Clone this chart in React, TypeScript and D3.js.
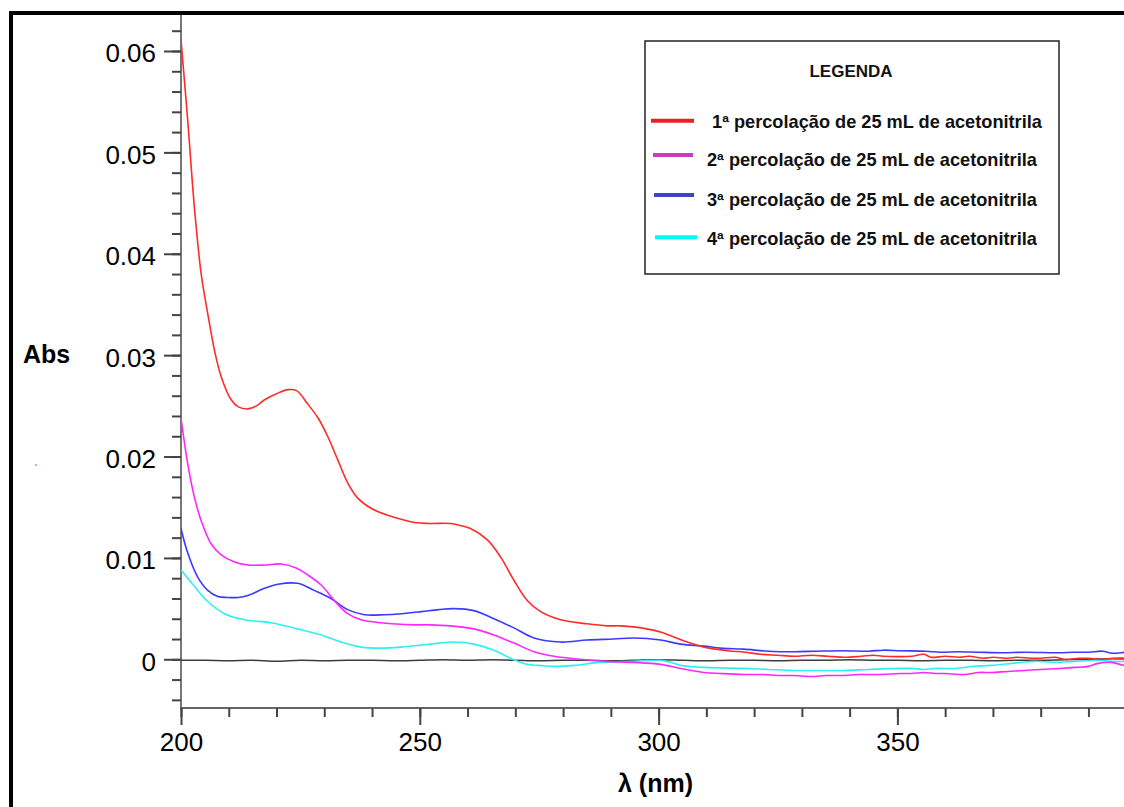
import React, { useEffect, useRef } from "react";
import * as d3 from "d3";

// ---- Data ----
const wavelengthMajorTicks = [200, 250, 300, 350];
const absMajorTicks = [0, 0.01, 0.02, 0.03, 0.04, 0.05, 0.06];

const seriesNames = [
  " 1ª percolação de 25 mL de acetonitrila",
  "2ª percolação de 25 mL de acetonitrila",
  "3ª percolação de 25 mL de acetonitrila",
  "4ª percolação de 25 mL de acetonitrila",
];

const red: [number, number][] = [
  [200, 0.0611], [201.4, 0.0532], [202.8, 0.0446], [204.2, 0.0381], [205.6, 0.0341], [207, 0.0305],
  [208.4, 0.0279], [210.5, 0.0256], [212, 0.0249], [214, 0.0247], [215.8, 0.025], [217.5, 0.0256],
  [220, 0.0262], [222.4, 0.0266], [224.2, 0.0265], [226.5, 0.0252], [228.7, 0.0238], [230.7, 0.022],
  [232.8, 0.0197], [234.9, 0.0174], [237, 0.0159], [239.8, 0.0149], [243.3, 0.0142], [248.9, 0.0135],
  [252, 0.0134], [256.4, 0.0134], [258.5, 0.0132], [260.6, 0.0129], [264.1, 0.0118], [266.9, 0.0101],
  [269.7, 0.0078], [272.5, 0.0058], [275.3, 0.0047], [279.5, 0.0039], [285, 0.0035], [289.2, 0.0033],
  [292, 0.0033], [294.8, 0.0032], [297.5, 0.003], [300.4, 0.0027], [303.2, 0.0022], [306, 0.0017],
  [309.5, 0.0012], [314.4, 0.00085], [318, 0.0007], [321.4, 0.0005], [325, 0.0004], [328.4, 0.0003],
  [332, 0.0004], [335.4, 0.0003], [339, 0.0002], [342.4, 0.0003], [345, 0.0004], [347, 0.0003],
  [350.7, 0.00026], [353, 0.0003], [355.6, 0.0005], [357, 0.0002], [360, 0.0003], [363, 0.0002],
  [365, 0.0003], [368, 0.0001], [370, 0.0002], [373, 0.0001], [375, 0.0002], [378, 0.0001],
  [380, 0.0001], [383, 0.0002], [385, 0.0], [388, 0.0001], [390, 0.0001], [393, 0.0], [395, 0.0001],
  [398, 0.0001], [400, 0.0],
];

const magenta: [number, number][] = [
  [200, 0.0238], [201.4, 0.0193], [202.8, 0.016], [204.2, 0.0137], [206.3, 0.0114], [208.4, 0.0103],
  [211.2, 0.0096], [214, 0.0093], [217.5, 0.0093], [221, 0.0094], [224.1, 0.009], [226.6, 0.0083],
  [229.4, 0.0073], [232.1, 0.0058], [234.9, 0.0045], [237.7, 0.0039], [241.9, 0.0036], [248.9, 0.0034],
  [252, 0.0034], [256.4, 0.0033], [261.3, 0.003], [265.5, 0.0024], [269.7, 0.0016], [273.9, 0.00075],
  [278.1, 0.0003], [283.6, 0.0], [289.2, -0.0002], [294.8, -0.0003], [300.4, -0.0005], [304.6, -0.0009],
  [309.5, -0.0013], [313, -0.0014], [317.8, -0.0015], [322, -0.0015], [325, -0.0016], [328.4, -0.0016],
  [332, -0.0017], [335, -0.0016], [338.8, -0.0016], [342, -0.0015], [346, -0.0015], [350.7, -0.0014],
  [353, -0.0014], [355.6, -0.0013], [358, -0.0014], [360, -0.0014], [364, -0.0015], [367, -0.0013],
  [369.6, -0.0013], [373, -0.0012], [376.6, -0.0011], [380, -0.001], [384, -0.0009], [387.1, -0.0008],
  [390, -0.0007], [392, -0.0004], [394.8, -0.0003], [397.6, -0.0006], [400, -0.0005],
];

const blue: [number, number][] = [
  [200, 0.0129], [201.4, 0.0105], [203.5, 0.0081], [205.6, 0.0068], [207.7, 0.0062], [209.8, 0.0061],
  [212, 0.0061], [214, 0.0063], [217.5, 0.007], [220.3, 0.0074], [224.4, 0.0075], [227.9, 0.0068],
  [231.4, 0.006], [234.9, 0.0049], [238.4, 0.0044], [242.6, 0.0044], [246.1, 0.0045], [250.3, 0.0047],
  [254, 0.0049], [257.1, 0.005], [261.3, 0.0048], [265.5, 0.004], [269.7, 0.0031], [273.9, 0.0021],
  [279.5, 0.0017], [285, 0.0019], [290.6, 0.002], [294.8, 0.0021], [300.4, 0.0019], [304.6, 0.0015],
  [309.5, 0.0013], [313, 0.0011], [317.8, 0.001], [323, 0.0008], [328.4, 0.00075], [333, 0.0008],
  [338.8, 0.00085], [344, 0.0008], [347, 0.0009], [350.7, 0.00085], [356, 0.0008], [359, 0.0007],
  [362.6, 0.00075], [367, 0.0007], [371.7, 0.00065], [377, 0.0007], [383.6, 0.00065], [387, 0.0007],
  [390, 0.0007], [393, 0.0008], [395, 0.0006], [398, 0.0007], [400, 0.0007],
];

const cyan: [number, number][] = [
  [200, 0.0088], [202.8, 0.0072], [205.6, 0.0057], [209.1, 0.0045], [213.3, 0.0039], [218.9, 0.0036],
  [224.4, 0.003], [229.4, 0.0024], [233.5, 0.0017], [237.7, 0.0012], [241.9, 0.0011], [246.1, 0.0012],
  [250.3, 0.0014], [254, 0.0016], [257.1, 0.0017], [261.3, 0.0015], [265.5, 0.0009], [269, 0.0001],
  [272.5, -0.0005], [275, -0.0006], [278.1, -0.0007], [282.3, -0.0006], [287.8, -0.0003], [294.8, -0.0002],
  [300.4, -0.0001], [302.5, -0.0003], [304.6, -0.0006], [309.5, -0.0008], [317.8, -0.0009], [323, -0.001],
  [328.4, -0.0011], [333, -0.0011], [338.8, -0.0011], [344, -0.001], [350.7, -0.0009], [353, -0.0009],
  [355.6, -0.001], [358, -0.0009], [362, -0.0009], [366, -0.0007], [369.6, -0.0006], [374, -0.0004],
  [376, -0.0003], [378.7, -0.0002], [383, -0.0003], [387.1, -0.0002], [392, -0.0001], [395, -0.0002],
  [400, -0.0002],
];

const black: [number, number][] = [
  [200, -0.0001], [205, -0.0001], [210, -0.00015], [215, -0.0001], [220, -0.0002], [225, -0.0001],
  [230, -0.00015], [235, -0.0001], [240, -0.0001], [245, -0.00015], [250, -0.0001], [255, -0.00005],
  [260, -0.0001], [265, -0.00005], [270, -0.0001], [275, -0.00015], [280, -0.0001], [285, -0.0001],
  [290, -0.00015], [295, -0.0001], [300, -0.00005], [305, -0.0001], [310, -0.00015], [315, -0.0001],
  [320, -0.0001], [325, -0.00015], [330, -0.0001], [335, -0.0001], [340, -0.00005], [345, -0.0001],
  [350, -0.0001], [355, -0.00015], [360, -0.0001], [365, -0.0001], [370, -0.00015], [375, -0.0001],
  [380, -0.0001], [385, -0.00005], [390, 0.0], [395, 0.00005], [400, 0.0],
];

const seriesData = [red, magenta, blue, cyan];
const lineColors = ["#ff2b2b", "#ff26ff", "#3b3bff", "#2ef0f0"];
const swatchColors = ["#e82222", "#c83cc8", "#4040c8", "#00f8f8"];

const FONT = "'Liberation Sans', Arial, Helvetica, sans-serif";

export default function App() {
  const xAxisRef = useRef<SVGGElement>(null);
  const yAxisRef = useRef<SVGGElement>(null);

  const x = d3.scaleLinear().domain([200, 350]).range([181, 897.4]);
  const y = d3.scaleLinear().domain([0, 0.06]).range([659.3, 51]);
  const axisY = 708;

  useEffect(() => {
    const xg = d3.select(xAxisRef.current);
    xg.selectAll("*").remove();
    const xMinor = d3.range(200, 401, 10);
    xg.append("g")
      .call(d3.axisBottom(x).tickValues(xMinor).tickSize(9).tickSizeOuter(0).tickFormat(() => ""))
      .call((g) => g.select(".domain").remove());
    xg.append("g")
      .call(
        d3.axisBottom(x).tickValues(wavelengthMajorTicks).tickSize(17).tickSizeOuter(0).tickPadding(8)
          .tickFormat((d) => String(d))
      )
      .call((g) => g.select(".domain").remove());
    xg.selectAll(".tick line").attr("stroke", "#444").attr("stroke-width", 2);
    xg.selectAll("text")
      .attr("font-family", FONT)
      .attr("font-size", 26)
      .attr("fill", "#000");

    const yg = d3.select(yAxisRef.current);
    yg.selectAll("*").remove();
    const yMinor = d3.range(-4, 63, 2).map((v) => v / 1000);
    yg.append("g")
      .call(d3.axisLeft(y).tickValues(yMinor).tickSize(9).tickSizeOuter(0).tickFormat(() => ""))
      .call((g) => g.select(".domain").remove());
    yg.append("g")
      .call(
        d3.axisLeft(y).tickValues(absMajorTicks).tickSize(17).tickSizeOuter(0).tickPadding(8)
          .tickFormat((d) => (+d === 0 ? "0" : d3.format(".2f")(+d)))
      )
      .call((g) => g.select(".domain").remove());
    yg.selectAll(".tick line").attr("stroke", "#444").attr("stroke-width", 2);
    yg.selectAll("text")
      .attr("font-family", FONT)
      .attr("font-size", 26)
      .attr("fill", "#000")
      .attr("dy", "0.42em");
  }, []);

  const line = d3
    .line<[number, number]>()
    .x((d) => x(d[0]))
    .y((d) => y(d[1]))
    .curve(d3.curveCatmullRom.alpha(0.5));

  const legendRowsY = [120.7, 155, 195, 237.3];
  const legendTextY = [127.5, 166, 205.5, 245];
  const legendTextX = [707, 707, 707, 707];
  const swatchX = [
    [651, 694],
    [653, 693],
    [654, 694],
    [655, 697],
  ];

  return (
    <svg
      width={1124}
      height={807}
      style={{ position: "absolute", left: 0, top: 0, background: "#fff" }}
      fontFamily={FONT}
    >
      <rect x={0} y={0} width={1124} height={807} fill="#fff" />
      <defs>
        <clipPath id="plotClip">
          <rect x={181} y={14} width={1000} height={694} />
        </clipPath>
      </defs>

      {/* outer frame */}
      <rect x={11} y={13} width={2000} height={2000} fill="none" stroke="#000" strokeWidth={4} />

      {/* axis lines */}
      <line x1={181} y1={15} x2={181} y2={axisY} stroke="#777" strokeWidth={2} />
      <line x1={180} y1={axisY} x2={1124} y2={axisY} stroke="#666" strokeWidth={2} />

      <g ref={xAxisRef} transform={`translate(0,${axisY})`} />
      <g ref={yAxisRef} transform={`translate(181,0)`} />

      {/* series */}
      <g clipPath="url(#plotClip)">
        <path d={line(black) || ""} fill="none" stroke="#3c3c3c" strokeWidth={1.5} />
        {[3, 2, 1, 0].map((i) => (
          <path key={i} d={line(seriesData[i]) || ""} fill="none" stroke={lineColors[i]} strokeWidth={1.6} />
        ))}
      </g>

      {/* axis titles */}
      <text x={23} y={363} fontSize={25} fontWeight="bold" fill="#000">
        Abs
      </text>
      <text x={618} y={792} fontSize={25} fontWeight="bold" fill="#000">
        λ (nm)
      </text>

      <circle cx={36} cy={465} r={1} fill="#f07aa8" />

      {/* legend */}
      <rect x={645} y={41} width={414} height={233} fill="#fff" stroke="#222" strokeWidth={1.5} />
      <text x={851} y={77} fontSize={17} fontWeight="bold" textAnchor="middle" fill="#111">
        LEGENDA
      </text>
      {seriesNames.map((name, i) => (
        <g key={name}>
          <line
            x1={swatchX[i][0]}
            x2={swatchX[i][1]}
            y1={legendRowsY[i]}
            y2={legendRowsY[i]}
            stroke={swatchColors[i]}
            strokeWidth={4}
          />
          <text x={legendTextX[i]} y={legendTextY[i]} fontSize={18.2} fontWeight="bold" fill="#111" xmlSpace="preserve" style={{ whiteSpace: "pre" }}>
            {name}
          </text>
        </g>
      ))}
    </svg>
  );
}
